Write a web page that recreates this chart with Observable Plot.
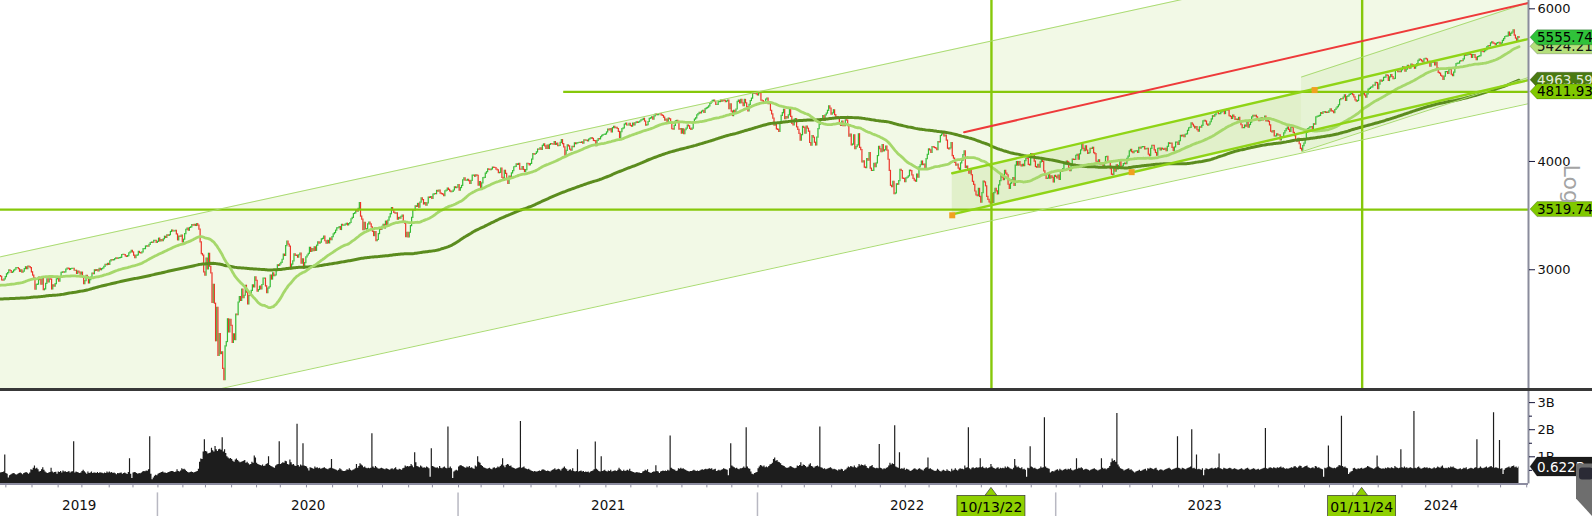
<!DOCTYPE html>
<html><head><meta charset="utf-8">
<script src="https://cdn.jsdelivr.net/npm/d3@7"></script>
<script src="https://cdn.jsdelivr.net/npm/@observablehq/plot@0.6"></script>
<style>
html,body{margin:0;padding:0;background:#fff}
#wrap{position:relative;width:1592px;height:516px;overflow:hidden;font-family:"DejaVu Sans",sans-serif}
#wrap svg{display:block}
.sep{height:3px;background:#383838;width:1592px}
</style></head><body><div id="wrap"></div>
<script>
// S&P 500 daily closes, Sep 2018 - Jun 21 2019 (only feeds the moving averages)
const closeBefore = [
2897,2889,2878,2872,2877,2888,2889,2904,2905,2889,2904,2908,2931,2930,2919,2916,2906,2914,2914,
2925,2923,2926,2902,2886,2884,2880,2786,2728,2767,2751,2810,2809,2769,2768,2756,2741,2656,2706,2659,2641,2683,2712,
2740,2723,2738,2755,2814,2807,2781,2726,2722,2702,2730,2736,2691,2642,2650,2633,2673,2682,2744,2738,2760,
2790,2700,2696,2633,2638,2637,2651,2651,2600,2546,2546,2507,2467,2417,2351,2468,2489,2486,2507,
2510,2448,2532,2550,2574,2585,2597,2596,2583,2610,2616,2636,2671,2633,2639,2642,2665,2644,2640,2681,2704,
2707,2725,2738,2732,2706,2708,2710,2745,2753,2746,2776,2780,2785,2775,2793,2796,2794,2792,2784,
2804,2793,2790,2771,2749,2743,2783,2792,2811,2808,2822,2833,2833,2824,2855,2801,2798,2818,2805,2815,2834,
2867,2867,2873,2879,2893,2896,2878,2888,2888,2907,2906,2907,2900,2905,2908,2934,2927,2926,2940,2943,2946,
2924,2918,2946,2932,2884,2879,2871,2881,2812,2834,2851,2876,2860,2840,2864,2856,2822,2826,2802,2783,2789,2752,
2744,2803,2826,2843,2873,2887,2886,2880,2892,2887,2890,2918,2926,2954,2950];

const close2019 = [
2945,2917,2914,2925,2942,
2964,2973,2996,2990,2976,2980,2993,3000,3014,3014,3004,2984,2995,2977,2985,3005,3020,3004,3026,3021,3013,2980,
2954,2932,2845,2882,2884,2938,2919,2883,2926,2841,2848,2889,2924,2901,2924,2923,2847,2878,2869,2888,2925,2926,
2906,2938,2976,2979,2978,2979,3001,3010,3007,2998,3006,3007,3007,2992,2992,2967,2985,2978,2962,2977,
2940,2888,2911,2952,2939,2893,2919,2938,2970,2966,2996,2990,2998,2986,3007,2996,3005,3010,3023,3039,3037,3047,3038,
3067,3078,3075,3077,3085,3093,3087,3092,3094,3097,3120,3122,3120,3108,3104,3110,3134,3141,3154,3141,
3114,3093,3113,3117,3146,3136,3133,3142,3169,3169,3191,3193,3191,3205,3221,3224,3223,3240,3240,3221,3231];
const close2020 = [
3258,3235,3246,3237,3253,3275,3265,3288,3283,3289,3317,3330,3321,3322,3326,3295,3244,3276,3273,3284,3226,
3249,3298,3335,3346,3328,3352,3358,3379,3374,3380,3370,3386,3373,3338,3226,3128,3116,2979,2954,
3090,3003,3130,3024,2972,2747,2882,2741,2481,2711,2386,2529,2398,2409,2305,2237,2447,2476,2630,2541,2627,2585,
2471,2527,2489,2664,2659,2750,2790,2762,2846,2783,2800,2875,2823,2737,2799,2798,2837,2878,2863,2940,2912,
2831,2843,2868,2848,2881,2930,2930,2870,2820,2853,2864,2954,2923,2972,2949,2955,2992,3036,3030,3044,
3056,3081,3123,3112,3194,3232,3207,3190,3002,3041,3067,3125,3113,3115,3098,3118,3131,3050,3084,3009,3053,3100,
3116,3130,3180,3145,3170,3152,3185,3155,3198,3227,3216,3225,3252,3257,3276,3236,3216,3239,3218,3258,3246,3271,
3295,3307,3328,3349,3351,3360,3334,3380,3373,3373,3382,3390,3375,3386,3397,3431,3444,3479,3485,3508,3500,
3527,3581,3455,3427,3332,3399,3339,3341,3384,3401,3385,3357,3319,3281,3316,3237,3247,3298,3352,3335,3363,
3381,3348,3409,3361,3419,3447,3477,3534,3512,3489,3483,3484,3427,3443,3436,3453,3465,3401,3391,3271,3310,3270,
3310,3369,3443,3510,3509,3551,3546,3573,3537,3585,3627,3610,3568,3582,3558,3578,3635,3630,3638,3622,
3662,3669,3667,3699,3692,3702,3673,3668,3663,3647,3695,3701,3722,3709,3695,3687,3690,3703,3735,3727,3732,3756];
const close2021 = [
3701,3727,3748,3804,3825,3800,3801,3810,3796,3768,3799,3852,3853,3841,3855,3850,3751,3787,3714,
3774,3826,3830,3872,3887,3916,3911,3910,3916,3935,3933,3931,3914,3907,3877,3881,3925,3829,3811,
3902,3870,3820,3768,3842,3821,3875,3899,3939,3943,3969,3963,3974,3915,3913,3941,3911,3889,3910,3975,3971,3959,3973,
4020,4078,4074,4080,4097,4129,4128,4142,4125,4170,4185,4163,4135,4173,4135,4180,4188,4187,4183,4211,4181,
4193,4165,4168,4202,4233,4188,4152,4063,4113,4174,4163,4128,4116,4159,4156,4197,4188,4196,4201,4204,
4202,4208,4193,4230,4227,4227,4220,4239,4247,4255,4247,4224,4222,4166,4225,4246,4242,4266,4281,4291,4292,4298,
4320,4352,4344,4358,4321,4370,4385,4369,4374,4360,4327,4258,4323,4359,4367,4412,4422,4401,4401,4419,4395,
4387,4423,4403,4429,4437,4432,4437,4448,4461,4468,4480,4448,4400,4406,4442,4480,4486,4496,4470,4509,4529,4523,
4524,4537,4535,4520,4514,4493,4459,4469,4443,4481,4474,4433,4358,4354,4396,4449,4455,4443,4353,4359,4308,
4357,4300,4346,4364,4400,4391,4361,4351,4364,4438,4471,4486,4520,4536,4550,4545,4566,4575,4552,4596,4605,
4614,4631,4661,4680,4698,4702,4685,4647,4649,4683,4683,4701,4689,4705,4698,4683,4691,4701,4595,4655,4567,
4513,4577,4538,4592,4687,4701,4667,4712,4669,4634,4710,4669,4621,4568,4649,4697,4726,4791,4786,4793,4779,4766];
const close2022 = [
4797,4794,4701,4696,4677,4670,4713,4726,4659,4663,4577,4533,4483,4398,4410,4356,4350,4327,4432,4516,
4547,4589,4477,4501,4484,4522,4587,4504,4419,4402,4471,4475,4380,4349,4305,4226,4289,4385,4374,
4306,4387,4363,4329,4201,4171,4278,4260,4204,4173,4262,4358,4412,4463,4461,4512,4456,4520,4543,4576,4632,4602,4530,
4546,4583,4525,4481,4500,4488,4413,4397,4447,4393,4392,4462,4459,4394,4272,4296,4175,4184,4288,4132,
4155,4175,4300,4147,4123,3991,4001,3935,3930,4024,4008,4089,3924,3901,3901,3974,3941,3979,4058,4158,4132,
4101,4177,4109,4121,4161,4116,4018,3901,3750,3735,3790,3667,3675,3765,3760,3796,3912,3900,3822,3819,3785,
3825,3831,3845,3903,3899,3854,3819,3802,3790,3863,3831,3937,3960,3999,3962,3967,3921,4024,4072,4130,
4119,4091,4155,4152,4145,4140,4122,4210,4207,4280,4297,4305,4274,4284,4228,4138,4129,4141,4199,4058,4031,3986,3955,
3967,3924,3908,3980,4006,4067,4110,3933,3946,3901,3873,3900,3856,3790,3758,3693,3655,3647,3719,3640,3586,
3678,3791,3783,3745,3640,3612,3589,3577,3670,3583,3678,3720,3695,3666,3753,3797,3859,3831,3807,3901,3872,
3856,3760,3720,3771,3807,3828,3749,3956,3993,3957,3992,3959,3947,3965,3950,4004,4027,4026,3964,3958,4080,
4077,4072,3999,3941,3934,3964,3934,3991,4020,3995,3896,3852,3818,3822,3878,3822,3845,3829,3783,3849,3840];
const close2023 = [
3824,3853,3808,3895,3892,3919,3970,3983,3999,3991,3929,3899,3973,4020,4017,4016,4060,4071,4018,4077,
4119,4180,4136,4111,4164,4118,4082,4090,4137,4136,4148,4090,4079,3997,3991,4012,3970,3982,3970,
3951,3981,4046,4048,3986,3992,3918,3862,3856,3919,3892,3960,3917,3952,4003,3937,3949,3971,3978,3971,4028,4051,4109,
4125,4101,4090,4105,4109,4109,4092,4146,4138,4151,4155,4155,4130,4134,4137,4072,4056,4135,4169,
4168,4120,4091,4061,4136,4138,4119,4138,4131,4124,4136,4110,4159,4198,4192,4193,4146,4115,4151,4205,4206,4180,
4221,4282,4274,4284,4268,4294,4299,4339,4369,4373,4426,4410,4389,4366,4382,4348,4329,4378,4377,4396,4450,
4456,4447,4412,4399,4410,4439,4472,4510,4505,4523,4555,4566,4535,4536,4555,4567,4567,4537,4582,4589,
4577,4513,4502,4478,4518,4499,4468,4469,4464,4490,4438,4404,4370,4370,4400,4388,4436,4376,4406,4433,4498,4515,4508,
4516,4497,4465,4451,4457,4487,4462,4467,4505,4450,4454,4444,4402,4330,4320,4337,4274,4275,4300,4288,
4288,4229,4264,4258,4309,4336,4358,4377,4350,4328,4374,4373,4315,4278,4224,4217,4248,4187,4137,4117,4167,4194,
4238,4318,4358,4366,4378,4383,4347,4415,4412,4496,4503,4508,4514,4547,4538,4557,4559,4550,4555,4551,4568,
4595,4570,4567,4549,4586,4604,4622,4644,4707,4720,4719,4741,4768,4698,4747,4755,4775,4782,4783,4770];
const close2024 = [
4743,4705,4689,4697,4764,4757,4783,4780,4784,4766,4739,4781,4840,4850,4865,4869,4894,4891,4928,4925,4846,
4906,4959,4943,4954,4995,4998,5027,5022,4953,5001,5030,5006,4976,4982,5087,5089,5070,5078,5070,5096,
5137,5131,5079,5105,5157,5124,5118,5175,5165,5150,5117,5149,5179,5225,5242,5234,5218,5204,5248,5254,
5244,5206,5211,5147,5204,5202,5210,5161,5199,5123,5062,5051,5022,5011,4967,5011,5071,5072,5048,5100,5116,5036,
5018,5064,5128,5181,5188,5188,5214,5223,5221,5247,5308,5297,5303,5308,5321,5307,5268,5305,5306,5267,5235,5278,
5283,5291,5354,5353,5347,5361,5375,5421,5434,5432,5473,5487,5473,5465,5448,5469,5478,5483,5460,
5475,5509,5537,5567,5573,5577,5634,5585,5615,5631,5667,5588,5545,5505,5564,5555.74];

// daily volume, in hundredths of a billion
const vol2019 = [
40,41,42,44,107,
38,36,22,30,33,36,38,37,34,33,36,38,40,37,34,38,40,42,39,36,40,52,
50,58,66,55,58,52,44,46,52,60,50,44,40,38,40,42,58,44,40,42,43,36,
44,42,46,40,48,44,45,42,43,46,40,44,45,156,40,44,42,40,38,40,
46,50,45,40,36,44,38,40,44,38,40,40,38,42,38,41,40,39,37,40,38,44,40,
44,40,42,38,40,37,34,38,37,39,40,36,38,40,37,35,42,93,36,20,
40,42,41,38,36,38,37,40,44,46,45,48,47,52,174,36,15,22,28,32,30];
const vol2020 = [
36,38,40,42,44,40,40,38,40,42,44,46,46,44,42,44,52,46,44,48,56,
52,54,50,46,42,40,42,44,42,40,42,44,46,54,80,92,90,118,163,
120,118,110,112,114,132,122,118,138,126,120,126,128,124,170,118,126,112,100,96,92,94,
90,84,80,88,92,86,82,78,80,82,84,86,76,80,74,70,72,80,76,103,96,
76,72,70,68,66,70,64,66,72,74,100,68,64,62,60,58,66,70,72,156,
72,74,78,76,84,82,72,70,88,78,70,72,66,64,220,68,62,70,66,148,66,64,
62,56,48,60,58,56,54,62,58,60,56,58,54,56,58,60,56,54,52,56,58,90,
56,54,52,50,48,50,56,52,48,46,46,48,52,50,56,50,48,50,52,56,72,
58,64,74,70,66,60,62,58,56,58,56,58,185,62,58,64,60,56,54,56,58,
56,54,52,56,54,52,50,54,56,52,56,60,52,50,54,52,50,56,58,66,62,64,
62,64,72,66,60,115,78,64,62,60,66,62,58,60,58,62,60,56,25,130,
64,62,60,58,60,56,64,58,56,60,62,58,56,210,58,62,56,20,44,48,50,48];
const vol2021 = [
62,66,68,64,62,60,58,62,60,64,58,60,56,54,66,62,100,80,76,
68,64,60,58,56,54,56,58,54,52,58,60,56,58,62,60,64,70,93,
66,60,68,72,70,64,66,60,58,56,54,56,58,60,230,58,60,62,56,54,52,54,50,
48,46,44,46,44,44,46,48,46,50,52,50,48,46,48,46,44,48,50,52,56,
50,52,54,52,48,54,58,62,56,52,46,50,52,48,56,46,44,46,126,44,
46,48,44,46,42,44,42,44,40,44,46,48,52,155,54,50,46,44,100,46,48,50,
46,44,48,46,50,44,46,48,48,46,50,58,52,48,46,50,46,48,50,48,54,
46,44,42,40,40,42,40,40,38,38,44,46,50,48,52,42,40,38,42,44,44,67,
46,44,38,44,46,48,46,48,46,50,48,177,58,54,52,50,46,48,56,54,58,
54,56,52,50,48,46,44,46,46,48,50,48,46,48,46,48,50,52,50,52,54,
52,54,56,54,56,50,52,54,46,48,50,48,50,52,56,54,52,50,30,56,148,
66,62,60,56,58,54,52,56,56,58,62,58,207,62,56,54,44,36,34,38,40,42];
const vol2022 = [
56,62,68,66,62,66,60,62,60,64,70,72,76,90,96,84,86,80,78,74,
68,66,64,60,58,58,60,64,62,60,58,56,58,66,64,68,78,64,70,
68,64,60,62,70,74,64,62,58,62,64,66,62,210,60,58,54,56,52,54,56,58,60,
56,52,54,52,50,48,52,50,54,52,46,50,52,58,62,60,64,62,60,66,
60,58,62,72,66,70,68,66,70,64,58,56,62,64,68,60,58,56,58,56,145,
58,56,52,56,54,58,60,66,76,70,74,72,215,62,60,58,115,54,56,54,58,
50,54,52,50,46,48,50,54,56,52,50,54,56,52,50,48,54,58,60,96,
54,56,52,50,48,46,48,54,50,46,44,48,50,48,46,52,48,46,44,54,48,50,56,
50,48,52,56,54,54,52,66,58,60,207,56,52,58,60,56,58,60,58,60,93,
60,62,58,56,60,56,58,60,72,62,58,56,54,58,60,54,58,56,58,56,62,
58,62,60,56,54,52,58,90,66,60,62,58,56,60,52,54,50,25,58,56,137,
62,60,56,58,54,52,54,56,62,58,60,244,62,58,56,54,40,44,46,44,48];
const vol2023 = [
50,52,48,54,50,48,50,52,54,50,54,52,56,50,48,50,52,93,54,58,
56,60,56,50,52,54,52,50,48,50,52,54,56,52,50,48,50,52,93,
58,54,56,52,56,58,64,78,92,84,86,80,260,70,62,56,54,52,48,50,52,54,56,
50,52,48,44,40,44,46,48,50,46,48,50,52,54,48,56,54,58,56,
54,52,56,58,50,48,50,52,50,48,50,52,54,56,58,54,50,52,54,56,58,174,
58,56,52,58,56,54,52,56,58,60,62,200,56,58,54,107,52,54,52,50,56,
30,50,56,54,52,54,56,58,54,56,58,56,60,110,56,54,52,58,56,54,
54,56,58,56,52,54,56,54,52,50,52,54,56,52,50,54,56,58,54,50,52,54,56,
54,50,52,54,50,52,54,56,58,204,56,54,58,60,58,56,60,58,56,60,
58,60,62,58,60,56,54,56,54,56,58,60,58,62,64,60,58,62,66,64,58,60,
62,64,66,60,58,56,58,60,56,64,62,58,60,56,54,52,25,58,56,60,140,
62,60,58,56,58,56,60,62,68,66,250,64,60,62,58,56,35,40,44,46];
const vol2024 = [
56,58,54,52,56,54,56,58,54,56,58,60,64,62,60,58,56,54,56,60,103,
62,58,56,54,56,54,58,56,60,58,56,60,58,56,64,60,58,56,58,126,
60,58,62,58,60,56,58,60,58,56,267,58,56,60,62,58,54,56,58,60,
58,60,56,58,56,54,56,60,56,58,62,60,58,62,66,58,56,58,56,60,58,62,
60,62,58,56,54,52,54,56,52,54,58,56,60,52,54,56,58,56,54,58,60,163,
56,58,62,58,56,58,60,62,58,60,62,64,60,263,58,60,58,56,160,
54,56,35,50,56,58,60,62,58,62,64,66,60,62,58,62.2];

const firstDay = "2019-06-24";
const holidays = ["2019-07-04","2019-09-02","2019-11-28","2019-12-25","2020-01-01","2020-01-20","2020-02-17","2020-04-10","2020-05-25","2020-07-03","2020-09-07","2020-11-26","2020-12-25","2021-01-01","2021-01-18","2021-02-15","2021-04-02","2021-05-31","2021-07-05","2021-09-06","2021-11-25","2021-12-24","2022-01-17","2022-02-21","2022-04-15","2022-05-30","2022-06-20","2022-07-04","2022-09-05","2022-11-24","2022-12-26","2023-01-02","2023-01-16","2023-02-20","2023-04-07","2023-05-29","2023-06-19","2023-07-04","2023-09-04","2023-11-23","2023-12-25","2024-01-01","2024-01-15","2024-02-19","2024-03-29","2024-05-27","2024-06-19","2024-07-04","2024-09-02"];

// drawn studies (trend channels / lines) in date & price terms
const bigChannel = {from: "2019-06-24", to: "2024-07-23", upper: [3105, 7474], lower: [1926, 4638]};
const midChannel = {from: "2022-08-26", to: "2024-07-23", upper: [3877, 5505], lower: [3476, 4936]};
const smallChannel = {from: "2023-10-27", to: "2024-07-23", upper: [5006, 6050], lower: [4104, 4959]};
const redLine = {from: "2022-09-12", to: "2024-07-23", values: [4323, 6058]};
const levelValues = [4811.93, 3519.74];
const levelStarts = ["2021-05-11", "2019-06-24"];
const markerDates = ["2022-10-13", "2024-01-11"];
const markerLabels = ["10/13/22", "01/11/24"];
const anchorDates = ["2022-08-26", "2023-04-04", "2023-11-13"];
const anchorValues = [3467, 3888, 4835];
const priceTicks = [3000, 4000, 6000];
const volTicks = [1, 2, 3];
const volMinorTicks = [0.5, 1.5, 2.5];
const tagValues = [5424.21, 5555.74, 4963.59, 4811.93, 3519.74];
const lastVolume = 0.622;
const lastVolumeLabel = "0.622B";

// ---------- derived ----------
const XMAX = 1286;
const closes = [].concat(close2019, close2020, close2021, close2022, close2023, close2024);
const volumes = [].concat(vol2019, vol2020, vol2021, vol2022, vol2023, vol2024);
const allCloses = closeBefore.concat(closes);
const P = closeBefore.length, N = closes.length;
const hol = new Set(holidays);
const dates = [];
for (let d = new Date(firstDay + "T00:00:00Z"); dates.length < N + 40; d.setUTCDate(d.getUTCDate() + 1)) {
  const w = d.getUTCDay(), s = d.toISOString().slice(0, 10);
  if (w > 0 && w < 6 && !hol.has(s)) dates.push(s);
}
const at = s => dates.indexOf(s);
const bars = closes.map((c, i) => ({i, o: allCloses[P + i - 1], c}));
const upBars = bars.filter(d => d.c >= d.o), downBars = bars.filter(d => d.c < d.o);
const vol = volumes.map((v, i) => ({i, v: v / 100}));
const sma = k => closes.map((c, i) => ({i, v: d3.mean(allCloses.slice(Math.max(0, P + i - k + 1), P + i + 1))}));
const ma50 = sma(50), ma200 = sma(200);
function ray(from, to, values, start) {
  const i0 = at(from), i1 = at(to);
  const f = i => values[0] * Math.pow(values[1] / values[0], (i - i0) / (i1 - i0));
  const s = start === undefined ? i0 : start;
  return [{i: s, v: f(s)}, {i: XMAX, v: f(XMAX)}];
}
function band(ch, start) {
  const u = ray(ch.from, ch.to, ch.upper, start), l = ray(ch.from, ch.to, ch.lower, start);
  return {u, l, area: u.map((p, k) => ({i: p.i, hi: p.v, lo: l[k].v}))};
}
const big = band(bigChannel, 0), mid = band(midChannel), small = band(smallChannel);
const red = ray(redLine.from, redLine.to, redLine.values);
const levels = levelValues.map((v, k) => ({v, i1: Math.max(0, at(levelStarts[k])), i2: XMAX}));
const markers = markerDates.map((d, k) => ({i: at(d), label: markerLabels[k]}));
const anchors = anchorDates.map((d, k) => ({i: at(d), v: anchorValues[k]}));

const monthTicks = [], yearBounds = [];
for (let k = 1; k < dates.length; k++) {
  const x = k - 0.5; if (x > XMAX) break;
  if (dates[k].slice(0, 7) !== dates[k - 1].slice(0, 7)) monthTicks.push(x);
  if (dates[k].slice(0, 4) !== dates[k - 1].slice(0, 4)) yearBounds.push(x);
}
const edges = [0, ...yearBounds, XMAX];
const years = edges.slice(0, -1).map((e, k) => ({x: (e + edges[k + 1]) / 2, label: dates[Math.ceil(e)].slice(0, 4)}));

const lime = "#86c80a", thin = "#aadb72";
const common = {width: 1592, marginLeft: 0, marginRight: 64, marginTop: 0,
  style: {background: "#fff", overflow: "hidden", fontFamily: "DejaVu Sans, sans-serif", fontSize: "13px", color: "#111"}};

const price = Plot.plot({
  ...common, height: 388, marginBottom: 0,
  x: {domain: [0, XMAX], axis: null},
  y: {type: "log", domain: [2188.5, 6134]},
  marks: [
    Plot.areaY(big.area, {x: "i", y1: "lo", y2: "hi", fill: "#f2f9e6", clip: true}),
    Plot.areaY(mid.area, {x: "i", y1: "lo", y2: "hi", fill: "#e1f0ca", clip: true}),
    Plot.areaY(small.area, {x: "i", y1: "lo", y2: "hi", fill: "#e6f3d5", clip: true}),
    Plot.ruleX(upBars, {x: "i", y1: "o", y2: "c", stroke: "#33bb33", strokeWidth: 1.2, strokeLinecap: "square"}),
    Plot.ruleX(downBars, {x: "i", y1: "o", y2: "c", stroke: "#ec3328", strokeWidth: 1.2, strokeLinecap: "square"}),
    Plot.line(ma200, {x: "i", y: "v", stroke: "#5b8c1e", strokeWidth: 3}),
    Plot.line(ma50, {x: "i", y: "v", stroke: "#a6d86b", strokeWidth: 2.8}),
    Plot.ruleY(levels, {y: "v", x1: "i1", x2: "i2", stroke: lime, strokeWidth: 2.4}),
    Plot.ruleX(markers, {x: "i", stroke: lime, strokeWidth: 2.4}),
    Plot.line(big.u, {x: "i", y: "v", stroke: thin, strokeWidth: 1, clip: true}),
    Plot.line(big.l, {x: "i", y: "v", stroke: thin, strokeWidth: 1, clip: true}),
    Plot.line(small.u, {x: "i", y: "v", stroke: thin, strokeWidth: 1, clip: true}),
    Plot.line(small.l, {x: "i", y: "v", stroke: thin, strokeWidth: 1, clip: true}),
    Plot.line(mid.u, {x: "i", y: "v", stroke: "#8fd416", strokeWidth: 2.4, clip: true}),
    Plot.line(mid.l, {x: "i", y: "v", stroke: "#8fd416", strokeWidth: 2.4, clip: true}),
    Plot.line(red, {x: "i", y: "v", stroke: "#ee3a3a", strokeWidth: 2, clip: true}),
    Plot.dot(anchors, {x: "i", y: "v", symbol: "square", r: 3.4, fill: "#f0a020"}),
    Plot.ruleX([XMAX], {stroke: "#8a8c9c", strokeWidth: 2}),
    Plot.axisY({anchor: "right", label: null, ticks: priceTicks, tickSize: 6, tickPadding: 3, tickFormat: d => String(d), stroke: "#14143a", fontSize: 13})
  ]
});

const volume = Plot.plot({
  ...common, height: 125, marginBottom: 32.6,
  x: {domain: [0, XMAX]},
  y: {domain: [0, 3.41]},
  marks: [
    Plot.areaY(vol, {x: "i", y: "v", curve: "step", fill: "#1d1d1d"}),
    Plot.ruleY([0], {stroke: "#8c8ca0", strokeWidth: 2}),
    Plot.ruleX([XMAX], {stroke: "#8a8c9c", strokeWidth: 2}),
    Plot.axisY({anchor: "right", label: null, ticks: volTicks, tickSize: 6, tickPadding: 3, tickFormat: d => d + "B", stroke: "#14143a", fontSize: 13}),
    Plot.axisY({anchor: "right", label: null, ticks: volMinorTicks, tickSize: 3, tickFormat: () => "", stroke: "#14143a"}),
    Plot.axisX({anchor: "bottom", label: null, ticks: monthTicks, tickSize: 4, tickPadding: 0, tickFormat: () => "", stroke: "#8c8ca0"}),
    Plot.text(years, {x: "x", text: "label", frameAnchor: "bottom", dy: 26, fontSize: 13.5, fill: "#111"})
  ]
});

const wrap = document.getElementById("wrap");
wrap.append(price);
const sep = document.createElement("div"); sep.className = "sep"; wrap.append(sep);
wrap.append(volume);

// value tags on the right edge, placed through the plots' scales
const py = price.scale("y"), vy = volume.scale("y"), vx = volume.scale("x");
const xr = price.scale("x").apply(XMAX);
const tagStyles = [
  {fill: "#b5df7c", color: "#111"}, {fill: "#30c23a", color: "#000"},
  {fill: "#4a7a12", color: "#e4eedc"}, {fill: "#80c800", color: "#000"}, {fill: "#80c800", color: "#000"}];
function tag(svg, y, text, st, h) {
  const g = d3.select(svg).append("g").attr("text-anchor", "start");
  g.append("path").attr("d", `M${xr + 2},${y}L${xr + 9},${y - h / 2}H1600V${y + h / 2}H${xr + 9}Z`)
    .attr("fill", st.fill).attr("stroke", "rgba(0,0,0,0.35)").attr("stroke-width", 0.6);
  g.append("text").attr("x", xr + 9).attr("y", y).attr("dy", "0.37em").attr("fill", st.color)
    .attr("text-anchor", "start").attr("font-size", 13.5).attr("font-family", "DejaVu Sans, sans-serif").text(text);
}
tagValues.forEach((v, k) => tag(price, py.apply(v), v.toFixed(2), tagStyles[k], 15));
tag(volume, vy.apply(lastVolume), lastVolumeLabel, {fill: "#1b1b1b", color: "#fff"}, 19);

// "Log" scale caption
d3.select(price).append("text").attr("transform", `translate(${xr + 36},${py.apply(3760)}) rotate(90)`)
  .attr("text-anchor", "middle").attr("font-size", 22).attr("fill", "#a4a4a4")
  .attr("font-family", "DejaVu Sans, sans-serif").text("Log");

// year separators and date markers under the volume panel
const vs = d3.select(volume);
const fb = vy.apply(0);
yearBounds.forEach(b => vs.append("line").attr("x1", vx.apply(b)).attr("x2", vx.apply(b))
  .attr("y1", fb + 9).attr("y2", 125).attr("stroke", "#b8b8c2").attr("stroke-width", 1.5));
markers.forEach(m => {
  const x = vx.apply(m.i);
  const g = vs.append("g");
  g.append("path").attr("d", `M${x - 6},${fb + 12}L${x},${fb + 4}L${x + 6},${fb + 12}Z`).attr("fill", "#8fd000").attr("stroke", "#333").attr("stroke-width", 0.7);
  g.append("rect").attr("x", x - 34).attr("y", fb + 12).attr("width", 68).attr("height", 24).attr("fill", "#8fd000").attr("stroke", "#333").attr("stroke-width", 0.7);
  g.append("text").attr("x", x).attr("y", fb + 23.5).attr("dy", "0.37em").attr("text-anchor", "middle")
    .attr("font-size", 14).attr("font-family", "DejaVu Sans, sans-serif").attr("fill", "#000").text(m.label);
});
// panel widget at the lower right corner
vs.append("path").attr("d", `M${xr + 48},${fb - 20}H1592V125L${xr + 48},${fb + 15}Z`).attr("fill", "#6e6e6e");
vs.append("rect").attr("x", xr + 51).attr("y", fb - 16).attr("width", 14).attr("height", 12).attr("rx", 3).attr("fill", "#2a2a35");
</script></body></html>
